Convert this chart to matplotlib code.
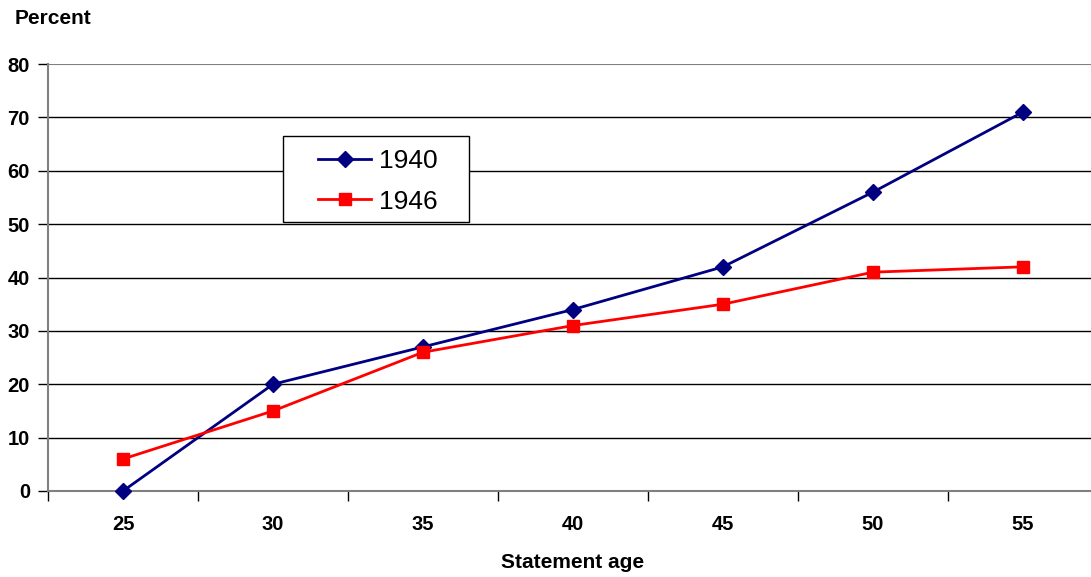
import matplotlib
matplotlib.use("Agg")
import matplotlib.pyplot as plt
from matplotlib.ticker import FixedLocator
from matplotlib.patches import Rectangle

plt.rcParams['font.family'] = ['Liberation Sans', 'DejaVu Sans']

ages = [25, 30, 35, 40, 45, 50, 55]
s1940 = [0, 20, 27, 34, 42, 56, 71]
s1946 = [6, 15, 26, 31, 35, 41, 42]
yticks = [0, 10, 20, 30, 40, 50, 60, 70, 80]

W, H = 1091, 577
fig = plt.figure(figsize=(W/100, H/100), dpi=100)
ax = fig.add_axes([48/W, 86/H, 1050/W, 427/H])

for y in yticks[1:-1]:
    ax.axhline(y, color='black', lw=1, zorder=1)
ax.axhline(yticks[-1], color='#808080', lw=1.5, zorder=1)

ax.plot(ages, s1940, color='#000080', lw=2, marker='D', markersize=8.5,
        label='1940', zorder=3, clip_on=False)
ax.plot(ages, s1946, color='#FF0000', lw=2, marker='s', markersize=9,
        label='1946', zorder=3, clip_on=False)

ax.set_xlim(22.5, 57.5)
ax.set_ylim(0, 80)
ax.set_xticks(ages)
ax.xaxis.set_minor_locator(FixedLocator([22.5 + 5*i for i in range(8)]))
ax.tick_params(axis='x', which='major', length=0, pad=17)
ax.tick_params(axis='x', which='minor', length=7, width=1, color='black', direction='out')
ax.set_yticks(yticks)
ax.tick_params(axis='y', length=7, width=1, color='black', pad=6)
for lab in ax.get_xticklabels() + ax.get_yticklabels():
    lab.set_fontweight('bold')
    lab.set_fontsize(14.5)

for s in ['top', 'right']:
    ax.spines[s].set_visible(False)
for s in ['left', 'bottom']:
    ax.spines[s].set_color('#808080')
    ax.spines[s].set_linewidth(1.5)

ax.set_xlabel('Statement age', fontsize=15, fontweight='bold', labelpad=14)
fig.text(15/W, 1 - 18/H, 'Percent', fontsize=15, fontweight='bold', va='center', ha='left')

# legend box
box = Rectangle((283/W, 1 - 222/H), 186/W, 86/H, transform=fig.transFigure,
                facecolor='white', edgecolor='black', lw=1, zorder=5)
ax.add_artist(box)
leg = ax.legend(loc='upper left', bbox_to_anchor=(313/W, 1 - 144/H),
                bbox_transform=fig.transFigure,
                fontsize=19, frameon=False,
                handlelength=2.0, handletextpad=0.3, borderpad=0.2, labelspacing=0.62,
                borderaxespad=0)
leg.set_zorder(6)

fig.savefig('out.png', dpi=100)
